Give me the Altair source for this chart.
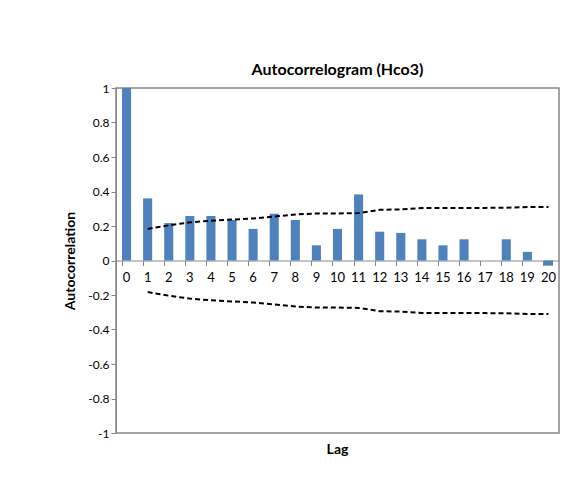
import altair as alt
import pandas as pd

lags = list(range(21))
acf = [1.0, 0.36, 0.217, 0.258, 0.258, 0.235, 0.183, 0.271, 0.235, 0.088, 0.183,
       0.383, 0.167, 0.16, 0.123, 0.088, 0.123, 0.0, 0.123, 0.05, -0.03]
bound = [None, 0.183, 0.204, 0.221, 0.231, 0.237, 0.244, 0.254, 0.267, 0.273, 0.273,
         0.275, 0.294, 0.296, 0.304, 0.305, 0.305, 0.305, 0.306, 0.31, 0.31]
y_ticks = [-1, -0.8, -0.6, -0.4, -0.2, 0, 0.2, 0.4, 0.6, 0.8, 1]

bars = pd.DataFrame({"Lag": lags, "Autocorrelation": acf})
bounds = pd.DataFrame({"Lag": lags[1:], "upper": bound[1:], "lower": [-b for b in bound[1:]]})

W, H = 443, 345
FONT = "Lato"

x = alt.X("Lag:O", title=None, scale=alt.Scale(paddingInner=0.57, paddingOuter=0.285),
          axis=alt.Axis(offset=-H / 2, labelAngle=0, domainColor="#888", tickColor="#888",
                        labelFontSize=13, labelColor="#000", labelPadding=6,
                        bandPosition=0))
yaxis = alt.Axis(values=y_ticks, tickCount=11, labelOverlap=False,
                 labelExpr="replace(format(datum.value, '.1~f'), '\u2212', '-')",
                 grid=False, domainColor="#888", tickColor="#888", labelColor="#000",
                 labelFontSize=12, titleFontSize=14, titleFont=FONT, labelFont=FONT,
                 titlePadding=10)
yscale = alt.Scale(domain=[-1, 1])

bar = alt.Chart(bars).mark_bar(color="#4f81bd").encode(
    x=x, y=alt.Y("Autocorrelation:Q", title="Autocorrelation", scale=yscale, axis=yaxis))

up = alt.Chart(bounds).mark_line(color="#000", strokeDash=[5, 3], strokeWidth=2).encode(
    x=alt.X("Lag:O"), y=alt.Y("upper:Q", title="Autocorrelation", scale=yscale, axis=yaxis))
lo = alt.Chart(bounds).mark_line(color="#000", strokeDash=[5, 3], strokeWidth=2).encode(
    x=alt.X("Lag:O"), y=alt.Y("lower:Q", title="Autocorrelation", scale=yscale, axis=yaxis))

lag_title = alt.Chart(pd.DataFrame({"t": ["Lag"]})).mark_text(
    font=FONT, fontSize=14, fontWeight="bold", baseline="top").encode(
    text="t:N", x=alt.value(W / 2), y=alt.value(H + 10))

chart = (bar + up + lo + lag_title).properties(
    width=W, height=H,
    title=alt.TitleParams("Autocorrelogram (Hco3)", font=FONT, fontSize=16, offset=4),
    autosize="none",
    padding={"left": 108, "top": 80, "right": 7, "bottom": 37},
).configure_view(stroke="#888", strokeWidth=1.5).configure_axis(labelFont=FONT)

chart.save("out.html", embed_options={"renderer": "svg", "actions": False})
